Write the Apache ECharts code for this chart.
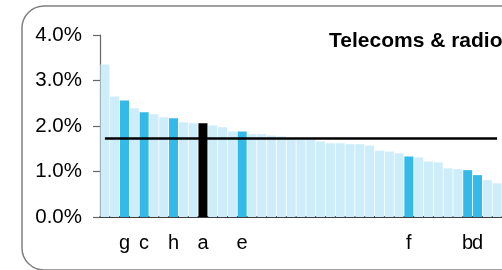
<!DOCTYPE html>
<html>
<head>
<meta charset="utf-8">
<script src="https://cdn.jsdelivr.net/npm/echarts@6/dist/echarts.min.js"></script>
<style>
html,body{margin:0;padding:0;background:#fff;}
#c{width:502px;height:270px;}
</style>
</head>
<body>
<div id="c"></div>
<script>
// Data
const categories = ['', '', 'g', '', 'c', '', '', 'h', '', '', 'a', '', '', '', 'e', '', '', '', '', '', '', '', '', '', '', '', '', '', '', '', '', 'f', '', '', '', '', '', 'b', 'd', '', ''];
const values = [3.35, 2.65, 2.56, 2.39, 2.30, 2.26, 2.19, 2.17, 2.08, 2.06, 2.06, 2.01, 1.97, 1.88, 1.88, 1.82, 1.82, 1.79, 1.77, 1.72, 1.70, 1.70, 1.66, 1.62, 1.62, 1.60, 1.60, 1.57, 1.46, 1.44, 1.40, 1.33, 1.31, 1.22, 1.20, 1.07, 1.05, 1.03, 0.92, 0.81, 0.74];
// 0 = other, 1 = highlighted, 2 = selected
const kinds = [0,0,1,0,1,0,0,1,0,0,2,0,0,0,1,0,0,0,0,0,0,0,0,0,0,0,0,0,0,0,0,1,0,0,0,0,0,1,1,0,0];
const average = 1.72;
const yTicks = [0, 1, 2, 3, 4];
const title = 'Telecoms & radio';

const kindColors = ['#CCEDF9', '#33BAE9', '#000000'];
const font = '"Liberation Sans", Arial, sans-serif';

const chart = echarts.init(document.getElementById('c'), null, {renderer: 'canvas'});
chart.setOption({
  animation: false,
  backgroundColor: '#ffffff',
  graphic: [
    {type: 'rect', shape: {x: 22, y: 6, width: 540, height: 264, r: 22},
     style: {fill: 'none', stroke: '#808080', lineWidth: 1.5}, z: 100},
    {type: 'text', left: 329, top: 31,
     style: {text: title, font: 'bold 21px ' + font, fill: '#000'}, z: 100}
  ],
  grid: {left: 100, top: 35, width: categories.length * 10, height: 182},
  xAxis: {
    type: 'category',
    data: categories,
    axisLine: {show: true, lineStyle: {color: '#000', width: 1.5}},
    axisTick: {show: false},
    axisLabel: {interval: 0, margin: 16, color: '#000', fontSize: 20, fontFamily: font}
  },
  yAxis: {
    type: 'value',
    min: yTicks[0], max: yTicks[yTicks.length - 1], interval: 1,
    splitLine: {show: false},
    axisLine: {show: true, lineStyle: {color: '#666', width: 1.2}},
    axisTick: {show: true, length: 7, lineStyle: {color: '#666', width: 1.2}},
    axisLabel: {margin: 18, color: '#000', fontSize: 20.5, fontFamily: font,
      formatter: v => v.toFixed(1) + '%'}
  },
  series: [{
    type: 'bar',
    barWidth: 9,
    data: values.map((v, i) => ({value: v, itemStyle: {color: kindColors[kinds[i]]}})),
    markLine: {
      symbol: 'none', silent: true,
      label: {show: false},
      lineStyle: {color: '#000', width: 2.6, type: 'solid'},
      data: [[{coord: [0, average]}, {coord: [categories.length - 1, average]}]]
    }
  }]
});
</script>
</body>
</html>
